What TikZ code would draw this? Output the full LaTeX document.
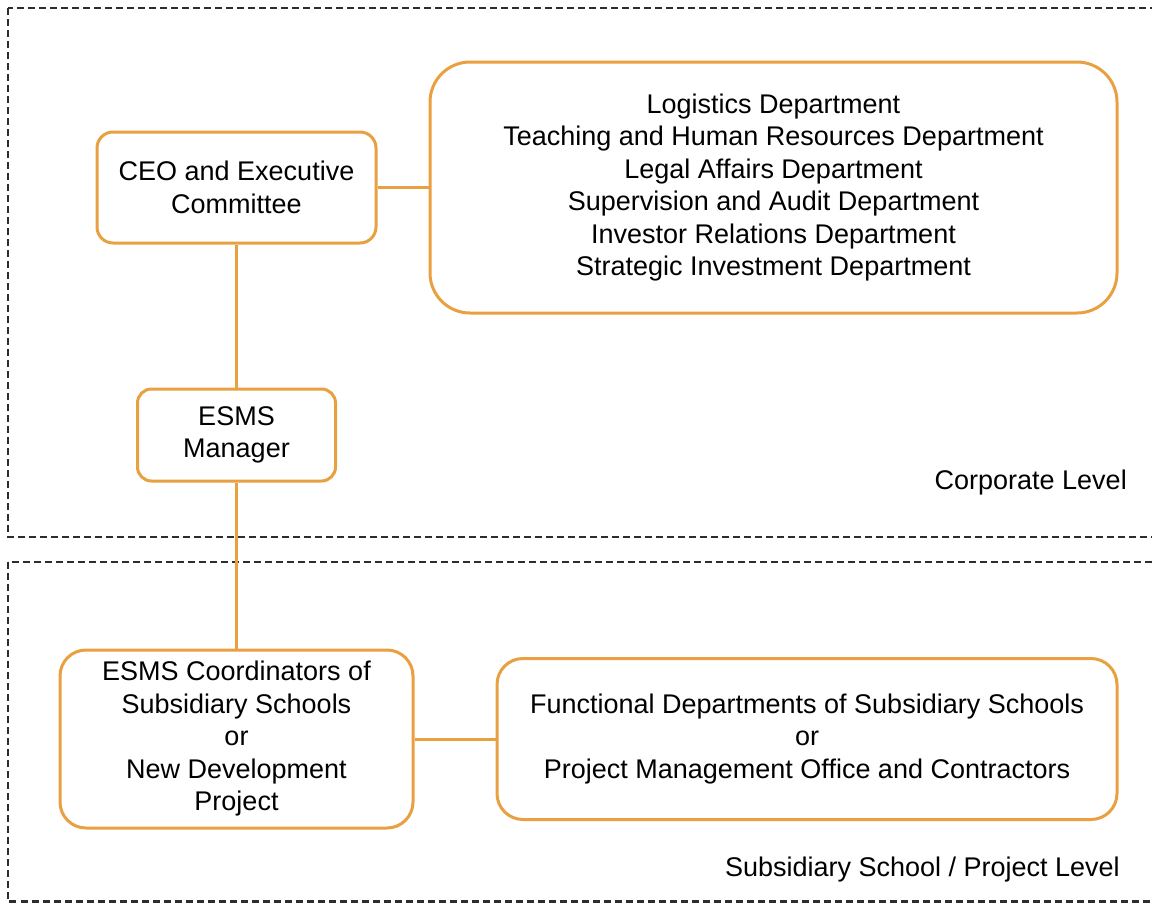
\documentclass[tikz,border=0pt]{standalone}
\usepackage{fontspec}
\setmainfont{Liberation Sans}
\begin{document}
\definecolor{boxorange}{RGB}{233,160,64}
\definecolor{framegray}{RGB}{45,45,45}
\begin{tikzpicture}[x=1pt,y=-1pt,
  unit/.style={draw=boxorange, line width=3pt, fill=white, inner sep=0pt,
    align=center, font=\fontsize{27}{32.5}\selectfont},
  link/.style={draw=boxorange, line width=3pt},
  frame/.style={draw=framegray, line width=2.4pt, dash pattern=on 7pt off 4pt},
  level/.style={anchor=east, inner sep=0pt, font=\fontsize{27}{32.5}\selectfont}]
\useasboundingbox (0,0) rectangle (1152,903);
\clip (0,0) rectangle (1152,903);

% level frames, running off the right edge
\draw[frame] (8,8) rectangle (1170,537);
\draw[frame] (8,562) rectangle (1170,901.5);

% organisational units
\node[unit, minimum width=279pt, minimum height=111pt, rounded corners=16pt]
  (ceo) at (236.5,187.5) {CEO and Executive\\Committee};
\node[unit, minimum width=687pt, minimum height=251pt, rounded corners=40pt]
  (dept) at (773.5,187.5) {Logistics Department\\Teaching and Human Resources Department\\Legal Affairs Department\\Supervision and Audit Department\\Investor Relations Department\\Strategic Investment Department};
\node[unit, minimum width=198pt, minimum height=92pt, rounded corners=14pt]
  (mgr) at (236.5,435) {ESMS\\Manager};
\node[unit, minimum width=353pt, minimum height=178pt, rounded corners=26pt]
  (coord) at (236.5,739) {ESMS Coordinators of\\Subsidiary Schools\\or\\New Development\\Project};
\node[unit, minimum width=620pt, minimum height=161pt, rounded corners=26pt]
  (func) at (807,739) {Functional Departments of Subsidiary Schools\\or\\Project Management Office and Contractors};

% reporting lines
\draw[link] (ceo.east) -- (dept.west);
\draw[link] (ceo.south) -- (mgr.north);
\draw[link] (mgr.south) -- (coord.north);
\draw[link] (coord.east) -- (func.west);

% level captions
\node[level] (corp) at (1127,483) {Corporate Level};
\node[level] (sub) at (1120,870) {Subsidiary School / Project Level};
\end{tikzpicture}
\end{document}
